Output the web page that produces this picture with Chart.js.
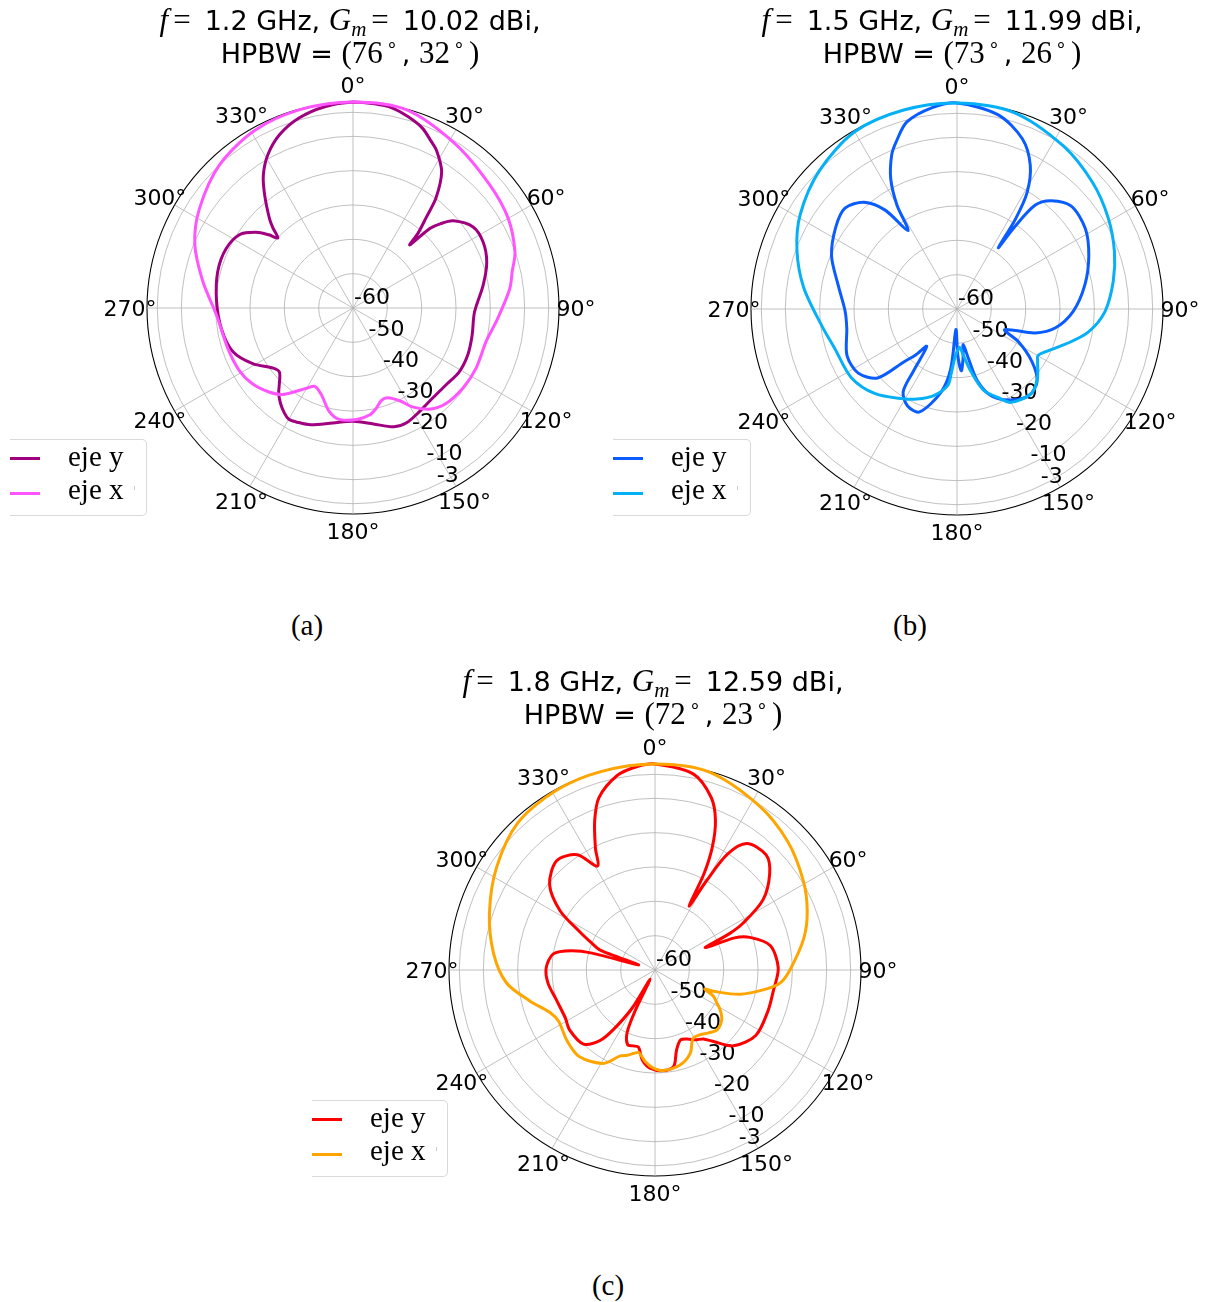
<!DOCTYPE html>
<html><head><meta charset="utf-8">
<script src="https://cdn.jsdelivr.net/npm/chart.js@4.4.1/dist/chart.umd.min.js"></script>
<style>
html,body{margin:0;padding:0;background:#fff;}
body{position:relative;width:1206px;height:1302px;overflow:hidden;}
canvas{position:absolute;z-index:1;}
.ttl{position:absolute;width:700px;text-align:center;font-family:"DejaVu Sans",sans-serif;font-size:27px;line-height:32px;color:#000;white-space:nowrap;z-index:2;}
.mi{font-family:"Liberation Serif",serif;font-style:italic;font-size:31px;}
.mr{font-family:"Liberation Serif",serif;font-size:31px;}
.eq{font-family:"Liberation Serif",serif;font-size:31px;padding:0 14px 0 5px;}
.sb{font-size:0.68em;vertical-align:-0.28em;line-height:0;}
.sp{font-size:0.62em;vertical-align:0.62em;line-height:0;padding:0 4px 0 3px;}
.cap{position:absolute;width:100px;text-align:center;font-family:"Liberation Serif",serif;font-size:29px;line-height:29px;}
.leg{position:absolute;box-sizing:border-box;border:1px solid #d9d9d9;border-left:none;border-radius:0 5px 5px 0;background:rgba(255,255,255,0.85);z-index:3;}
.ll{position:absolute;left:0;width:30px;height:3px;}
.lt{position:absolute;left:58px;font-family:"Liberation Serif",serif;font-size:29px;line-height:32px;white-space:nowrap;}
.tk{position:absolute;left:124px;top:46px;width:1px;height:4px;background:#c8c8c8;}
</style></head>
<body>
<canvas id="ca" width="560" height="560" style="left:73px;top:28px"></canvas>
<canvas id="cb" width="560" height="560" style="left:677px;top:29px"></canvas>
<canvas id="cc" width="560" height="560" style="left:375px;top:690px"></canvas>

<div class="ttl" style="left:0px;top:4px"><span class="mi">f</span><span class="eq">=</span>1.2 GHz, <span class="mi">G<span class="sb">m</span></span><span class="eq">=</span>10.02 dBi,<br>HPBW = <span class="mr">(76<span class="sp">∘</span></span>, <span class="mr">32<span class="sp">∘</span>)</span></div>
<div class="ttl" style="left:602px;top:4px"><span class="mi">f</span><span class="eq">=</span>1.5 GHz, <span class="mi">G<span class="sb">m</span></span><span class="eq">=</span>11.99 dBi,<br>HPBW = <span class="mr">(73<span class="sp">∘</span></span>, <span class="mr">26<span class="sp">∘</span>)</span></div>
<div class="ttl" style="left:303px;top:665px"><span class="mi">f</span><span class="eq">=</span>1.8 GHz, <span class="mi">G<span class="sb">m</span></span><span class="eq">=</span>12.59 dBi,<br>HPBW = <span class="mr">(72<span class="sp">∘</span></span>, <span class="mr">23<span class="sp">∘</span>)</span></div>

<div class="leg" style="left:10px;top:439px;width:137px;height:77px">
  <div class="ll" style="top:17px;background:#a00080"></div><div class="lt" style="top:0px">eje y</div>
  <div class="ll" style="top:52px;background:#ff55ff"></div><div class="lt" style="top:33px">eje x</div><div class="tk"></div>
</div>
<div class="leg" style="left:613px;top:439px;width:138px;height:77px">
  <div class="ll" style="top:17px;background:#0a5cff"></div><div class="lt" style="top:0px">eje y</div>
  <div class="ll" style="top:52px;background:#06b0f6"></div><div class="lt" style="top:33px">eje x</div><div class="tk"></div>
</div>
<div class="leg" style="left:312px;top:1100px;width:136px;height:77px">
  <div class="ll" style="top:17px;background:#ff0000"></div><div class="lt" style="top:0px">eje y</div>
  <div class="ll" style="top:52px;background:#ffa500"></div><div class="lt" style="top:33px">eje x</div><div class="tk"></div>
</div>

<div class="cap" style="left:257px;top:611px">(a)</div>
<div class="cap" style="left:860px;top:611px">(b)</div>
<div class="cap" style="left:558px;top:1271px">(c)</div>

<script>
// ---- axis definitions ----
const ANGLE_LABELS = ['0°','30°','60°','90°','120°','150°','180°','210°','240°','270°','300°','330°'];
const R_TICKS = [-60,-50,-40,-30,-20,-10,-3];
const R_MIN = -60, R_MAX = 0;
const DEGREES = Array.from({length:360}, (_, i) => i);

// ---- (a) 1.2 GHz ----
const A_Y_ANG = [0,6,11,16,21,25,28,33,37,39,41,42,44,46,49,56,63,71,80,92,103,112,121,129,138,147,155,161,170,180,190,200,206,210,213,217,221,224,229,233,241,250,261,273,285,295,303,308,311,313,315,317,322,326,331,337,344,352];
const A_Y_DB  = [0,-0.2,-0.6,-2.0,-3.8,-6.3,-8.1,-12.6,-19.8,-26.2,-31.1,-35.3,-27.8,-24.7,-21.3,-17.8,-17.5,-18.8,-21.5,-24.6,-24.4,-23.9,-23.9,-24.8,-25.0,-24.2,-23.1,-23.4,-25.7,-27.0,-26.0,-23.8,-23.0,-22.6,-23.4,-25.0,-27.0,-29.1,-31.6,-30.9,-26.6,-22.8,-21.2,-20.2,-19.2,-19.2,-20.7,-24.2,-27.5,-30.1,-27.0,-24.3,-18.2,-13.3,-8.9,-5.2,-2.5,-0.8];
const A_X_ANG = [0,15,32,48,60,71,77,83,94,104,116,126,136,143,149,153,159,163,167,171,178,187,193,200,206,210,219,225,233,241,252,267,280,292,303,317,331,345];
const A_X_DB  = [0,-0.2,-3.7,-6.4,-7.8,-10.1,-12.4,-14.0,-17.7,-20.0,-20.1,-20.4,-21.2,-23.1,-26.4,-29.6,-32.0,-31.8,-30.0,-28.5,-27.5,-27.3,-29.1,-33.1,-34.6,-33.0,-27.6,-25.4,-23.3,-22.2,-21.7,-20.2,-15.6,-10.3,-6.7,-3.0,-0.9,-0.2];

// ---- (b) 1.5 GHz ----
const B_Y_ANG = [0,12,21,27,31,33,34,35,37,41,48,58,68,79,91,101,107,111,114,118,125,132,140,149,158,164,167,170,173,176,179,183,186,191,200,207,213,215,219,222,225,229,237,247,260,269,281,293,304,312,319,324,328,330,333,337,340,345,353];
const B_Y_DB  = [0,-2.2,-6.9,-13.0,-20.3,-28.6,-38.5,-31.0,-22.1,-18.2,-15.2,-15.9,-18.6,-22.0,-26.1,-30.9,-36.2,-42.9,-44.9,-39.8,-33.4,-28.6,-27.2,-29.1,-32.5,-38.0,-45.2,-49.5,-45.5,-42.0,-46.4,-54.0,-42.4,-35.2,-28.1,-28.3,-31.2,-37.7,-46.0,-42.0,-38.4,-29.4,-25.7,-25.2,-27.4,-27.4,-24.8,-20.3,-17.4,-16.1,-18.8,-24.4,-33.1,-25.0,-17.5,-11.3,-8.2,-3.6,-0.9];
const B_X_ANG = [0,16,33,47,59,70,80,91,100,108,116,120,123,131,139,150,154,162,168,172,176,179,182,185,187,195,204,211,224,237,252,263,278,290,301,315,330,345];
const B_X_DB  = [0,-0.4,-3.3,-6.0,-8.6,-11.2,-13.8,-16.9,-21.2,-26.8,-31.5,-32.8,-32.0,-29.0,-27.2,-28.6,-30.9,-35.2,-42.0,-46.3,-48.8,-48.0,-46.4,-41.5,-37.5,-33.9,-31.3,-29.5,-25.7,-23.3,-22.6,-20.3,-14.9,-10.4,-6.7,-3.2,-0.4,0];

// ---- (c) 1.8 GHz ----
const C_Y_ANG = [0,11,18,22,25,27,28,30,32,36,44,50,57,62,64,66,68,71,78,89,100,110,123,134,141,145,150,155,160,165,169,175,183,188,192,196,200,204,206,208,211,215,218,224,235,242,253,263,271,279,283,285,287,290,293,297,302,309,318,326,331,334,338,342,349,355];
const C_Y_DB  = [0,-1.8,-7.1,-13.0,-20.5,-28.7,-38.9,-29.9,-20.3,-14.5,-13.4,-16.4,-22.5,-31.0,-36.0,-44.0,-35.0,-30.8,-25.7,-24.1,-25.0,-25.0,-25.0,-28.2,-33.3,-35.5,-36.5,-37.8,-38.3,-35.8,-31.4,-30.6,-31.4,-33.5,-37.0,-37.0,-36.8,-40.0,-47.0,-57.0,-47.0,-38.7,-33.9,-30.0,-29.6,-30.4,-30.0,-28.6,-28.3,-30.0,-35.0,-41.0,-55.0,-43.0,-40.0,-35.3,-27.4,-20.5,-17.2,-19.5,-25.4,-20.4,-13.1,-7.2,-2.3,-0.5];
const C_X_ANG = [0,15,32,46,59,69,78,90,96,100,106,110,111,114,118,122,127,134,140,145,151,157,165,175,181,186,191,194,198,202,209,221,231,242,248,256,265,276,289,303,317,331,345];
const C_X_DB  = [0,-0.2,-3.3,-6.2,-9.6,-12.5,-15.7,-20.7,-23.4,-27.5,-34.3,-41.9,-44.5,-41.5,-39.6,-37.5,-35.7,-34.9,-36.0,-37.0,-37.2,-33.7,-31.4,-30.6,-31.4,-33.1,-35.5,-35.0,-33.9,-33.0,-28.9,-26.5,-27.1,-28.2,-27.0,-22.5,-16.6,-12.7,-9.0,-5.0,-1.4,-0.3,-0.1];

// ---- build radar data (one slot per degree, unmeasured slots left empty) ----
function toRing(ang, db) {
  const out = new Array(DEGREES.length).fill(null);
  ang.forEach((a, i) => { out[a % 360] = db[i]; });
  return out;
}

const polarText = {
  id: 'polarText',
  beforeDatasetsDraw(chart) {
    const s = chart.scales.r, ctx = chart.ctx;
    ctx.save();
    ctx.font = '22px "DejaVu Sans"';
    ctx.fillStyle = '#000';
    ctx.textBaseline = 'alphabetic';
    ctx.textAlign = 'left';
    R_TICKS.forEach(v => {
      const p = s.getPointPositionForValue(155, v);
      ctx.fillText(String(v), p.x + 1, p.y - 3.6);
    });
    ctx.textAlign = 'center';
    ANGLE_LABELS.forEach((lab, k) => {
      const p = s.getPointPosition(k * 30, s.drawingArea + 17);
      ctx.fillText(lab, p.x, p.y + 8);
    });
    ctx.restore();
  }
};

function makePolar(id, series) {
  return new Chart(document.getElementById(id), {
    type: 'radar',
    data: {
      labels: DEGREES,
      datasets: series.map(s => ({
        label: s.label, data: toRing(s.ang, s.db),
        borderColor: s.color, backgroundColor: s.color,
        borderWidth: 3, pointRadius: 0, pointHitRadius: 0,
        fill: false, tension: 0.3, spanGaps: true, order: s.order
      }))
    },
    options: {
      responsive: false, animation: false, events: [],
      layout: { padding: 74 },
      plugins: { legend: { display: false }, tooltip: { enabled: false } },
      scales: {
        r: {
          min: R_MIN, max: R_MAX, startAngle: 0,
          afterBuildTicks: (sc) => { sc.ticks = [...R_TICKS, R_MAX].map(v => ({ value: v })); },
          ticks: { display: false },
          pointLabels: { display: false },
          grid: {
            circular: true,
            color: (c) => (c.tick && c.tick.value === R_MAX ? '#000' : '#b0b0b0'),
            lineWidth: (c) => (c.tick && c.tick.value === R_MAX ? 1.1 : 0.8)
          },
          angleLines: {
            display: true, color: '#b0b0b0',
            lineWidth: (c) => (c.index % 30 === 0 ? 0.8 : 0)
          }
        }
      }
    },
    plugins: [polarText]
  });
}

makePolar('ca', [
  { label: 'eje y', ang: A_Y_ANG, db: A_Y_DB, color: '#a00080', order: 1 },
  { label: 'eje x', ang: A_X_ANG, db: A_X_DB, color: '#ff55ff', order: 0 }
]);
makePolar('cb', [
  { label: 'eje y', ang: B_Y_ANG, db: B_Y_DB, color: '#0a5cff', order: 1 },
  { label: 'eje x', ang: B_X_ANG, db: B_X_DB, color: '#06b0f6', order: 0 }
]);
makePolar('cc', [
  { label: 'eje y', ang: C_Y_ANG, db: C_Y_DB, color: '#ff0000', order: 1 },
  { label: 'eje x', ang: C_X_ANG, db: C_X_DB, color: '#ffa500', order: 0 }
]);
</script>
</body></html>
